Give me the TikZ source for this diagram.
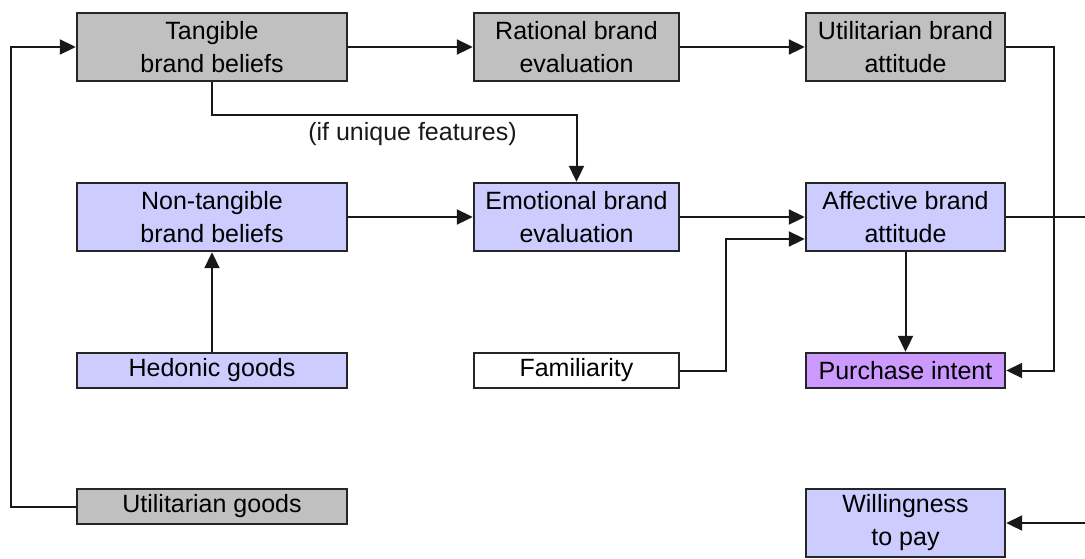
\documentclass[tikz,border=0pt]{standalone}
\usepackage{fontspec}
\setmainfont{Liberation Sans}
\usepackage{tikz}
\usetikzlibrary{positioning,arrows.meta}

\definecolor{greyfill}{HTML}{C0C0C0}
\definecolor{bluefill}{HTML}{CCCCFF}
\definecolor{purplefill}{HTML}{CC99FF}

\begin{document}
\begin{tikzpicture}[on grid,
    box/.style={draw=black!85, line width=1.2pt, align=center, inner sep=0pt,
                minimum height=34pt, font=\fontsize{12.5}{16.5}\selectfont},
    flat/.style={box, minimum height=17.5pt},
    wideA/.style={minimum width=135pt},
    wideB/.style={minimum width=102.5pt},
    wideC/.style={minimum width=99.5pt},
    arr/.style={-{Triangle[length=8pt,width=7.5pt]}, line width=1pt, black!90},
    line/.style={line width=1pt, black!90}]
   \useasboundingbox (0,0) rectangle (542.5pt,-279pt);

   % first row
   \node[box, wideA, fill=greyfill] (tbb) at (106pt,-23.5pt) {Tangible\\brand beliefs};
   \node[box, wideB, fill=greyfill] (rbe) [right=182.25pt of tbb] {Rational brand\\evaluation};
   \node[box, wideC, fill=greyfill] (uba) [right=164.5pt of rbe] {Utilitarian brand\\attitude};
   % second row
   \node[box, wideA, fill=bluefill] (nbb) [below=85pt of tbb] {Non-tangible\\brand beliefs};
   \node[box, wideB, fill=bluefill] (ebe) [right=182.25pt of nbb] {Emotional brand\\evaluation};
   \node[box, wideC, fill=bluefill] (aba) [right=164.5pt of ebe] {Affective brand\\attitude};
   % third row
   \node[flat, wideA, fill=bluefill] (hg) [below=76.75pt of nbb] {Hedonic goods};
   \node[flat, wideB, fill=white] (fam) [right=182.25pt of hg] {Familiarity};
   \node[flat, wideC, fill=purplefill] (pi) [right=164.5pt of fam] {Purchase intent};
   % last row
   \node[flat, wideA, fill=greyfill] (ug) [below=68pt of hg] {Utilitarian goods};
   \node[box, wideC, fill=bluefill] (wtp) [below=76.25pt of pi] {Willingness\\to pay};

   \coordinate (exit) at (542.5pt,0 |- aba.east);
   \coordinate (entry) at (542.5pt,0 |- wtp.east);

   \draw[arr] (ug.west) -- ++(-32.5pt,0) |- (tbb.west);
   \draw[arr] (tbb) -- (rbe);
   \draw[arr] (rbe) -- (uba);
   \draw[arr] (uba.east) -- ++(24pt,0) |- (pi.east);
   \draw[arr] (tbb.south) -- ++(0,-16.5pt) -| node[pos=0.275, below,
       font=\fontsize{12.5}{15}\selectfont] {(if unique features)} (ebe.north);
   \draw[arr] (nbb) -- (ebe);
   \draw[arr] (ebe) -- (aba);
   \draw[line] (aba.east) -- (exit);
   \draw[arr] (fam.east) -- ++(23pt,0) |- ([yshift=-11pt]aba.west);
   \draw[arr] (aba) -- (pi);
   \draw[arr] (hg) -- (nbb);
   \draw[arr] (entry) -- (wtp.east);
\end{tikzpicture}
\end{document}
